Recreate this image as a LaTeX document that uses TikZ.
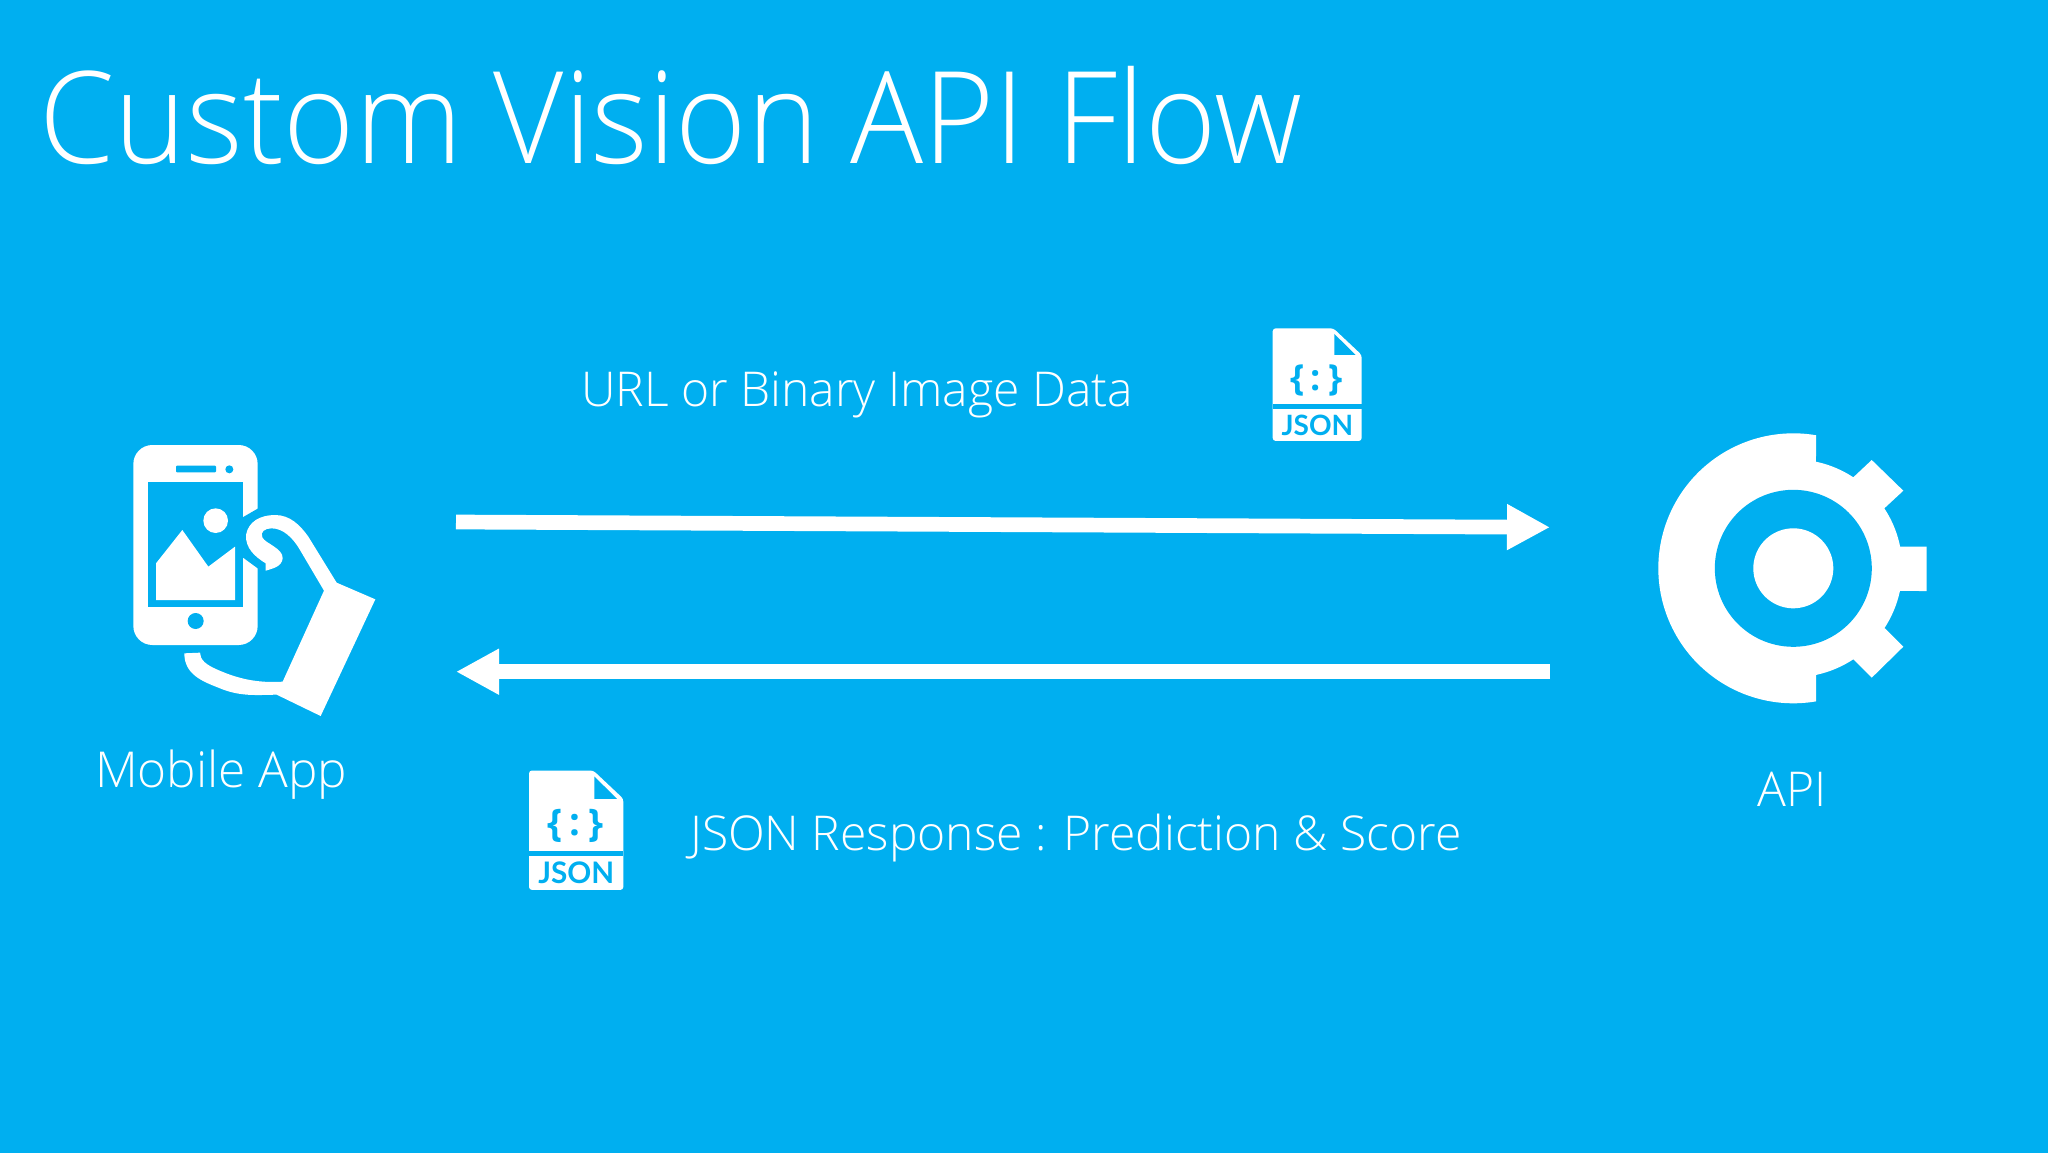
\documentclass[tikz,border=0pt]{standalone}
\usepackage{fontspec}
\setmainfont{Open Sans Light}
\newfontfamily\jsonfont{Open Sans}
\newfontfamily\jsonlabelfont{Lato}
\usetikzlibrary{arrows.meta}
\definecolor{bgblue}{HTML}{00AFF0}
\tikzset{
  lbl/.style={text=white,anchor=base west,inner sep=0pt,font=\fontsize{48}{52}\selectfont},
  flow/.style={draw=white,line width=14.7pt,-{Triangle[length=43pt,width=43pt]}},
  jsonbrace/.style={transform shape,text=bgblue,inner sep=0pt,font=\jsonfont\bfseries\fontsize{36}{36}\selectfont},
  jsonicon/.pic={
    \begin{scope}[x=1/3*1pt,y=-1/3*1pt]
      \fill[white,rounded corners=3pt] (0,0) -- (182,0) -- (267,80) -- (267,338) -- (0,338) -- cycle;
      \fill[bgblue] (185,17) -- (185,80) -- (249,80) -- cycle;
      \fill[bgblue] (0,228) rectangle (267,242);
      \node[transform shape,text=bgblue,inner sep=0pt,font=\jsonlabelfont\bfseries\fontsize{28}{28}\selectfont] (jsonword) at (134,290) {JSON};
      \node[jsonbrace] (jsonopen) at (75,156) {\{};
      \node[jsonbrace] (jsoncolon) at (130,156) {:};
      \node[jsonbrace] (jsonclose) at (190,156) {\}};
    \end{scope}
  }
}
\newcommand{\gearcx}{1793.3}
\newcommand{\gearcy}{568.3}
\begin{document}
\begin{tikzpicture}[x=1pt,y=-1pt]
\useasboundingbox (0,0) rectangle (2048,1152);
\fill[bgblue] (-3,-3) rectangle (2051,1155);

\node[lbl,font=\fontsize{128}{130}\selectfont,xscale=0.95,transform shape] (title) at (39,163) {Custom Vision API Flow};
\node[lbl] (urllabel) at (581,406) {URL or Binary Image Data};
\node[lbl] (resplabel) at (690,850) {JSON Response : Prediction \& Score};
\node[lbl,font=\fontsize{49.5}{52}\selectfont] (mobilelabel) at (95,787) {Mobile App};
\node[lbl] (apilabel) at (1757,806) {API};

% connectors
\coordinate (reqstart) at (456,522);
\coordinate (reqend) at (1550,527.3);
\coordinate (respstart) at (1550,671.7);
\coordinate (respend) at (456,671.7);
\draw[flow] (reqstart) -- (reqend);
\draw[flow] (respstart) -- (respend);

% JSON icons
\pic at (1272.7,328.3) {jsonicon};
\pic[scale=1.06] at (529,770.5) {jsonicon};

% phone and hand
\begin{scope}[shift={(100,420)},x=1/3*1pt,y=-1/3*1pt]
  \fill[white,rounded corners=19pt] (100,75) rectangle (473,675);
  \fill[bgblue] (145,187) rectangle (430,562);
  \fill[bgblue] (428,292) -- (480,262) -- (480,450) -- (428,412) -- cycle;
  \fill[bgblue,rounded corners=1pt] (228,137) rectangle (348,157);
  \fill[bgblue] (388,148) circle[radius=12];
  \fill[bgblue] (287,603) circle[radius=24];
  \fill[white] (347,302) circle[radius=37];
  \fill[white] (168,430) -- (247,330) -- (325,440) -- (405,380) -- (405,540) -- (168,540) -- cycle;
  % hand
  \fill[white] (497,452) -- (497,430) .. controls (465,410) and (436,385) .. (438,345)
    .. controls (445,305) and (480,285) .. (525,285)
    .. controls (570,285) and (600,315) .. (625,350)
    -- (710,488) -- (826,538) -- (662,888) -- (530,824)
    .. controls (470,825) and (420,830) .. (360,805)
    .. controls (310,785) and (253,765) .. (253,700)
    -- (300,698)
    .. controls (300,720) and (320,735) .. (350,748)
    .. controls (410,775) and (470,790) .. (548,785)
    -- (672,512) -- (600,390)
    .. controls (580,355) and (550,325) .. (515,325)
    .. controls (495,325) and (480,335) .. (487,352)
    .. controls (495,370) and (550,385) .. (548,415)
    .. controls (545,440) and (520,445) .. (497,452) -- cycle;
\end{scope}

% gear
\fill[white] plot[domain=-80.3:-279.7,samples=120] ({\gearcx+135*cos(\x)},{\gearcy+135*sin(\x)})
  -- (1816,674) -- plot[domain=78:56.6,samples=12] ({\gearcx+109*cos(\x)},{\gearcy+109*sin(\x)})
  -- (1871.7,677.7) -- (1903.3,646.7) -- (1885,628.3)
  -- plot[domain=33.4:12,samples=12] ({\gearcx+109*cos(\x)},{\gearcy+109*sin(\x)})
  -- (1926.7,591) -- (1926.7,546.7) -- (1900,546.7)
  -- plot[domain=-12:-33.4,samples=12] ({\gearcx+109*cos(\x)},{\gearcy+109*sin(\x)})
  -- (1903.3,490.7) -- (1871.7,460) -- (1853.3,477.3)
  -- plot[domain=-56.6:-78,samples=12] ({\gearcx+109*cos(\x)},{\gearcy+109*sin(\x)}) -- cycle;
\fill[bgblue] plot[domain=0:360,samples=120] ({\gearcx+78.5*cos(\x)},{\gearcy+78.5*sin(\x)}) -- cycle;
\fill[white] plot[domain=0:360,samples=90] ({\gearcx+40*cos(\x)},{\gearcy+40*sin(\x)}) -- cycle;
\end{tikzpicture}
\end{document}
